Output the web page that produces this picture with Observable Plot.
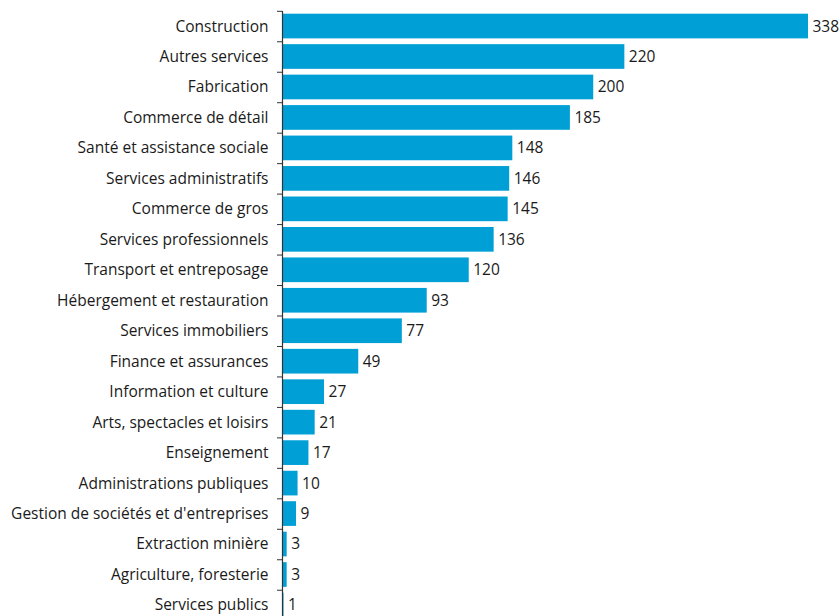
<!DOCTYPE html>
<html><head><meta charset="utf-8">
<script src="https://cdn.jsdelivr.net/npm/d3@7"></script>
<script src="https://cdn.jsdelivr.net/npm/@observablehq/plot@0.6"></script>
<style>body{margin:0;background:#fff;} svg{display:block;}</style>
</head><body><div id="chart"></div>
<script>
const categories = ["Construction","Autres services","Fabrication","Commerce de détail","Santé et assistance sociale","Services administratifs","Commerce de gros","Services professionnels","Transport et entreposage","Hébergement et restauration","Services immobiliers","Finance et assurances","Information et culture","Arts, spectacles et loisirs","Enseignement","Administrations publiques","Gestion de sociétés et d'entreprises","Extraction minière","Agriculture, foresterie","Services publics"];
const values = [338,220,200,185,148,146,145,136,120,93,77,49,27,21,17,10,9,3,3,1];
const data = categories.map((c,i)=>({category:c, value:values[i]}));
const step = 30.47;
const y0 = 10.8;
const font = "'Open Sans', sans-serif";
const fs = 15.5;
const chart = Plot.plot({
  width: 840, height: 616,
  marginLeft: 282, marginRight: 32, marginTop: 11, marginBottom: 0,
  style: {fontFamily: font, fontSize: fs + "px", color: "#1a1a1a", background: "#fff"},
  x: {domain: [0, 338], axis: null},
  y: {domain: categories, range: [y0, y0 + 20 * step], paddingInner: 0.19, paddingOuter: 0.095, round: false, label: null},
  marks: [
    Plot.barX(data, {y: "category", x: "value", fill: "#00A0D6", insetLeft: 0.7}),
    Plot.text(data, {y: "category", x: "value", text: d => String(d.value), textAnchor: "start", dx: 4, fontSize: fs, fill: "#1a1a1a"}),
    Plot.axisY({tickSize: 0, tickPadding: 14, fontSize: fs, label: null}),
    Plot.axisY({tickSize: 5, text: null, dy: -step/2, label: null, stroke: "#333"}),
    Plot.ruleX([0], {stroke: "#333", strokeWidth: 1.2})
  ]
});
document.getElementById("chart").append(chart);
</script></body></html>
